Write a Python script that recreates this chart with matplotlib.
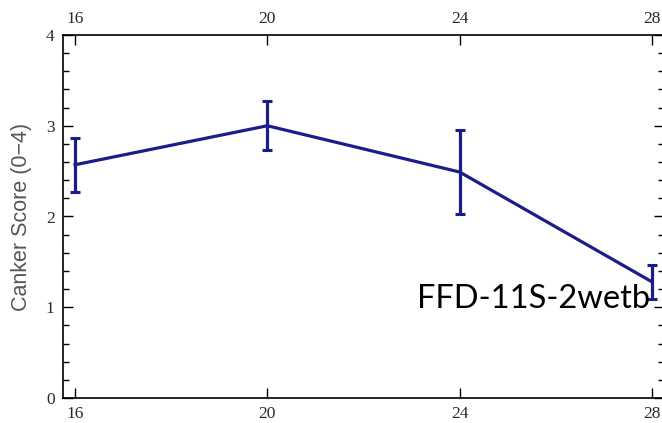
import matplotlib
matplotlib.use("Agg")
import matplotlib.pyplot as plt
from matplotlib.ticker import MultipleLocator

temps = [16, 20, 24, 28]
scores = [2.57, 3.00, 2.49, 1.28]
errors = [0.30, 0.27, 0.46, 0.19]
x_ticks = [16, 20, 24, 28]
y_ticks = [0, 1, 2, 3, 4]
label_text = "FFD-11S-2wetb"

fig = plt.figure(figsize=(6.62, 4.23), dpi=100)
ax = fig.add_axes([63/662, 25/423, 601/662, 363/423])

color = "#1c1c8a"
ax.errorbar(temps, scores, yerr=errors, color=color, lw=2.3, capsize=3.5,
            capthick=2.2, elinewidth=2.3)

ax.set_xlim(15.75, 28.25)
ax.set_ylim(0, 4)
ax.set_xticks(x_ticks)
ax.set_yticks(y_ticks)
ax.yaxis.set_minor_locator(MultipleLocator(0.2))

ax.tick_params(axis="both", which="both", direction="in", top=True, right=True,
               labeltop=True, colors="black", width=1.0)
ax.tick_params(axis="both", which="major", length=7, labelsize=12.5, pad=6)
ax.tick_params(axis="both", which="minor", length=4)
for t in ax.xaxis.get_major_ticks() + ax.yaxis.get_major_ticks():
    for lab in (t.label1, t.label2):
        lab.set_fontfamily("Liberation Serif")
        lab.set_color("#2a2a2a")
for sp in ax.spines.values():
    sp.set_linewidth(1.2)

ax.set_ylabel("Canker Score (0\u22124)", fontfamily="Liberation Sans", fontsize=15.5,
              color="#555555", labelpad=10)

ax.text(0.977, 0.248, label_text, transform=ax.transAxes, ha="right", va="baseline",
        fontfamily="Lato", fontsize=23.5, color="black")

fig.savefig("out.png", dpi=100)
